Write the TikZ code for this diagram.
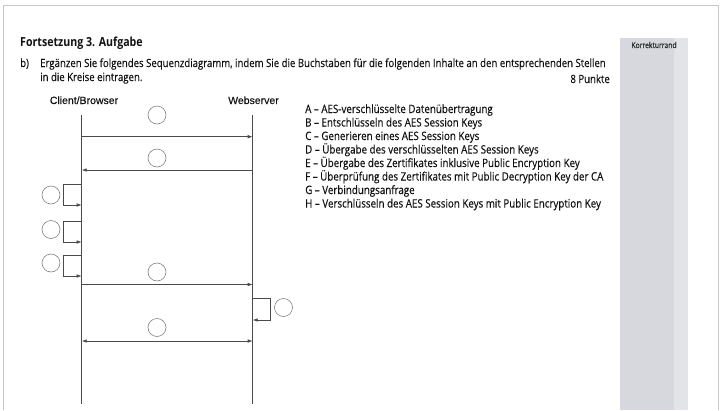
\documentclass[tikz,border=0pt]{standalone}
\usepackage{fontspec}
\setmainfont{Open Sans}[FakeStretch=0.85]
\newfontfamily\bodyfont{Open Sans}[FakeStretch=0.85, FakeBold=0.35]
\newfontfamily\arialfont{Liberation Sans}[FakeBold=0.2]
\usetikzlibrary{arrows.meta}
\definecolor{linegray}{HTML}{4A4A4A}
\definecolor{sidegray}{HTML}{D6D8DD}
\definecolor{sidelight}{HTML}{E2E4E8}
\definecolor{framegray}{HTML}{C8C8C8}
\definecolor{textgray}{HTML}{111111}
\tikzset{
  life/.style={draw=linegray, line width=0.7pt},
  msg/.style={draw=linegray, line width=0.7pt, -{Latex[length=5pt,width=3.6pt]}},
  bimsg/.style={draw=linegray, line width=0.7pt, {Latex[length=5pt,width=3.6pt]}-{Latex[length=5pt,width=3.6pt]}},
  slot/.style={circle, draw=black!50, line width=0.6pt, minimum size=18pt, inner sep=0pt},
  body/.style={font=\bodyfont\fontsize{11.3}{13}\selectfont, text=textgray, inner sep=0pt, anchor=base west},
  legend/.style={body, font=\bodyfont\fontsize{11.5}{13}\selectfont},
  actor/.style={font=\arialfont\fontsize{10.5}{12}\selectfont, text=textgray, inner sep=0pt, anchor=base},
}
\begin{document}
\begin{tikzpicture}[x=1pt,y=-1pt]
\useasboundingbox (0,0) rectangle (723,410);
% page frame
\draw[framegray, line width=0.8pt] (3,410) -- (3,5) -- (718,5) -- (718,410);
% correction margin
\fill[sidegray] (620,38) rectangle (674,410);
\fill[sidelight] (674,38) rectangle (688,410);
\node[font=\bodyfont\fontsize{8}{9}\selectfont, text=black!85, inner sep=0pt] (kr) at (654,45) {Korrekturrand};
% header
\node[body, font=\bfseries\fontsize{12.5}{14}\selectfont] (title) at (20,46) {Fortsetzung 3. Aufgabe};
\node[body] (bb) at (20,67) {b)};
\node[body] (t1) at (40,67) {Ergänzen Sie folgendes Sequenzdiagramm, indem Sie die Buchstaben für die folgenden Inhalte an den entsprechenden Stellen};
\node[body] (t2) at (40,81) {in die Kreise eintragen.};
\node[body, anchor=base east] (pk) at (610,83) {8 Punkte};
% actors
\node[actor] (client) at (84,104) {Client/Browser};
\node[actor] (server) at (253.5,104) {Webserver};
\coordinate (ctop) at (81.7,115);
\coordinate (cbot) at (81.7,404);
\coordinate (stop) at (252.7,115);
\coordinate (sbot) at (252.7,404);
\draw[life] (ctop) -- (cbot);
\draw[life] (stop) -- (sbot);
% message 1: client -> server
\coordinate (c1) at (81.7,136.7);
\coordinate (s1) at (252.7,136.7);
\draw[msg] (c1) -- (s1);
\node[slot] (k1) at (157,115) {};
% message 2: server -> client
\coordinate (c2) at (81.7,170);
\coordinate (s2) at (252.7,170);
\draw[msg] (s2) -- (c2);
\node[slot] (k2) at (157,158) {};
% client self loops
\coordinate (l1t) at (81.7,184);
\coordinate (l1b) at (81.7,205);
\draw[msg] (l1t) -- (63.3,184) -- (63.3,205) -- (l1b);
\node[slot] (k3) at (51,195) {};
\coordinate (l2t) at (81.7,221);
\coordinate (l2b) at (81.7,242);
\draw[msg] (l2t) -- (63.3,221) -- (63.3,242) -- (l2b);
\node[slot] (k4) at (51,229.5) {};
\coordinate (l3t) at (81.7,255);
\coordinate (l3b) at (81.7,276);
\draw[msg] (l3t) -- (63.3,255) -- (63.3,276) -- (l3b);
\node[slot] (k5) at (51,263) {};
% message 6: client -> server
\coordinate (c6) at (81.7,284.5);
\coordinate (s6) at (252.7,284.5);
\draw[msg] (c6) -- (s6);
\node[slot] (k6) at (157,272) {};
% server self loop
\coordinate (l4t) at (252.7,298.5);
\coordinate (l4b) at (252.7,320);
\draw[msg] (l4t) -- (270,298.5) -- (270,320) -- (l4b);
\node[slot] (k7) at (283.5,307.5) {};
% message 8: both directions
\coordinate (c8) at (81.7,341);
\coordinate (s8) at (252.7,341);
\draw[bimsg] (c8) -- (s8);
\node[slot] (k8) at (157,327.5) {};
% legend
\node[legend] (la) at (305,113) {A – AES-verschlüsselte Datenübertragung};
\node[legend] (lb) at (305,126.5) {B – Entschlüsseln des AES Session Keys};
\node[legend] (lc) at (305,140) {C – Generieren eines AES Session Keys};
\node[legend] (ld) at (305,153.5) {D – Übergabe des verschlüsselten AES Session Keys};
\node[legend] (le) at (305,167) {E – Übergabe des Zertifikates inklusive Public Encryption Key};
\node[legend] (lf) at (305,180.5) {F – Überprüfung des Zertifikates mit Public Decryption Key der CA};
\node[legend] (lg) at (305,194) {G – Verbindungsanfrage};
\node[legend] (lh) at (305,207.5) {H – Verschlüsseln des AES Session Keys mit Public Encryption Key};
\end{tikzpicture}
\end{document}
